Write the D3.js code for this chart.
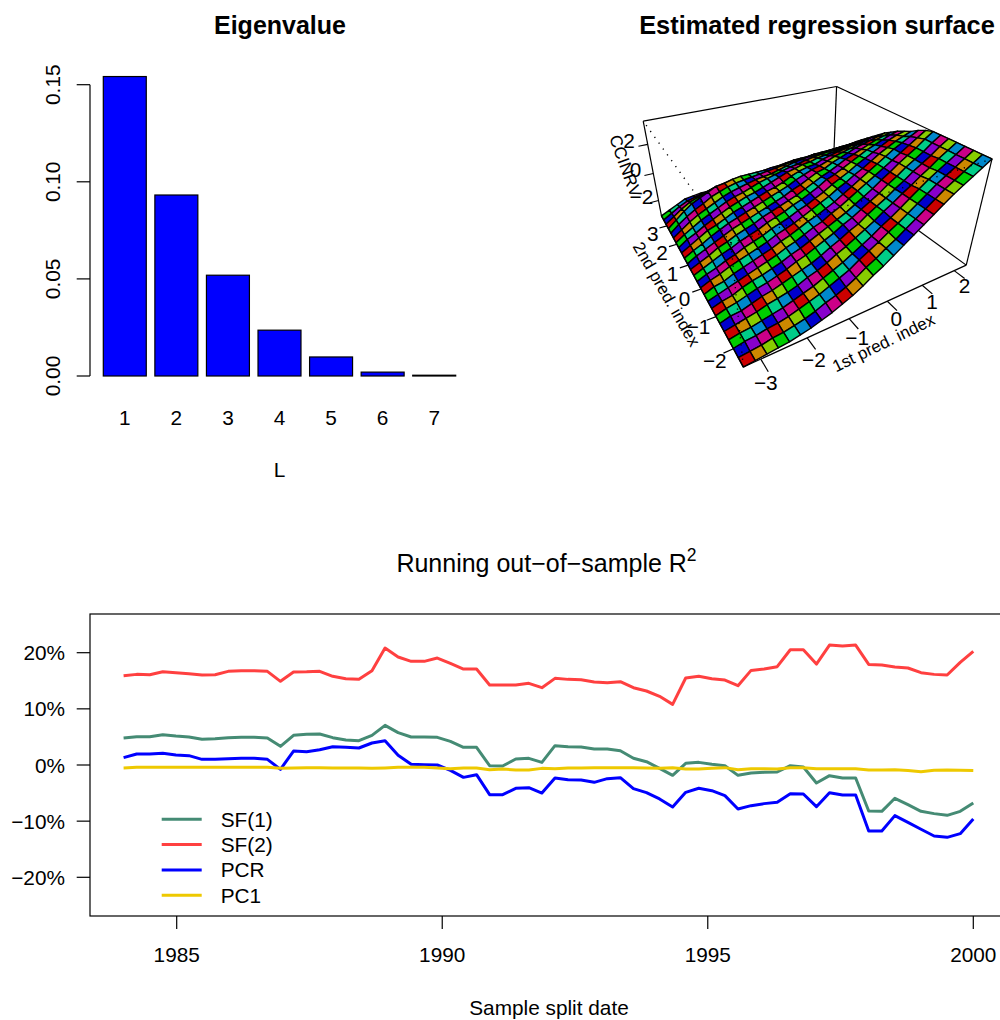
<!DOCTYPE html>
<html>
<head>
<meta charset="utf-8">
<script src="https://cdn.jsdelivr.net/npm/d3@7"></script>
<style>
body { margin: 0; background: #fff; }
svg { display: block; }
text { font-family: "Liberation Sans", Arial, sans-serif; fill: #000; }
</style>
</head>
<body>
<div id="chart"></div>
<script>
// eigenvalue bars
const eigenLabels = ["1", "2", "3", "4", "5", "6", "7"]
const eigenValues = [0.1542, 0.0932, 0.0519, 0.0236, 0.0098, 0.002, 0.0004]
const eigenTicks = [0, 0.05, 0.10, 0.15]

// running R2, percent
const firstDate = 1984
const lastDate = 2000
const dateTicks = [1985, 1990, 1995, 2000]
const r2Ticks = [-20, -10, 0, 10, 20]
const seriesNames = ["SF(1)", "SF(2)", "PCR", "PC1"]
const seriesColors = ["#458B74", "#FF4040", "#0000FF", "#EEC900"]
const sf1 = [4.81, 5.04, 5.04, 5.4, 5.16, 4.99, 4.57, 4.69, 4.87, 4.93, 4.93, 4.81, 3.32, 5.28, 5.46, 5.52, 4.87, 4.45, 4.33, 5.28, 7.06, 5.76, 4.99, 4.99, 4.93, 4.21, 3.15, 3.15, -0.12, -0.18, 1.07, 1.19, 0.47, 3.44, 3.26, 3.2, 2.85, 2.85, 2.55, 1.19, 0.59, -0.59, -1.84, 0.3, 0.47, 0.12, -0.12, -1.84, -1.42, -1.31, -1.25, -0.12, -0.36, -3.2, -1.9, -2.31, -2.31, -8.19, -8.25, -5.93, -7.06, -8.25, -8.66, -8.96, -8.25, -6.77]
const sf2 = [15.9, 16.14, 16.08, 16.6, 16.44, 16.26, 16.02, 16.08, 16.68, 16.8, 16.8, 16.68, 14.9, 16.56, 16.59, 16.68, 15.79, 15.37, 15.25, 16.8, 20.83, 19.23, 18.46, 18.46, 19.05, 18.1, 17.09, 17.09, 14.24, 14.24, 14.24, 14.54, 13.77, 15.43, 15.25, 15.19, 14.78, 14.66, 14.84, 13.77, 13.18, 12.23, 10.8, 15.49, 15.79, 15.37, 15.13, 14.12, 16.85, 17.09, 17.51, 20.53, 20.53, 17.98, 21.36, 21.19, 21.36, 17.92, 17.8, 17.45, 17.27, 16.44, 16.14, 16.02, 18.28, 20.24]
const pcr = [1.31, 1.96, 1.96, 2.08, 1.78, 1.66, 1.01, 1.01, 1.13, 1.19, 1.19, 1.01, -0.77, 2.49, 2.37, 2.73, 3.26, 3.15, 3.03, 3.92, 4.33, 1.72, 0.12, 0.06, 0, -0.95, -2.2, -1.72, -5.28, -5.28, -4.15, -4.04, -4.99, -2.31, -2.61, -2.67, -3.09, -2.43, -2.26, -4.21, -4.93, -6.05, -7.48, -4.87, -4.15, -4.57, -5.46, -7.83, -7.24, -6.88, -6.65, -5.1, -5.16, -7.42, -4.93, -5.34, -5.34, -11.75, -11.75, -9.02, -10.21, -11.45, -12.64, -12.88, -12.23, -9.61]
const pc1 = [-0.53, -0.42, -0.42, -0.42, -0.42, -0.42, -0.42, -0.42, -0.42, -0.42, -0.42, -0.42, -0.6, -0.53, -0.47, -0.47, -0.53, -0.53, -0.53, -0.6, -0.53, -0.42, -0.42, -0.42, -0.53, -0.65, -0.53, -0.53, -0.83, -0.71, -0.89, -0.89, -0.6, -0.65, -0.53, -0.53, -0.47, -0.47, -0.47, -0.47, -0.53, -0.6, -0.47, -0.71, -0.71, -0.6, -0.47, -0.83, -0.65, -0.65, -0.71, -0.47, -0.47, -0.65, -0.65, -0.65, -0.65, -0.89, -0.89, -0.83, -1.0, -1.19, -0.95, -0.89, -0.95, -1.0]
const seriesValues = [sf1, sf2, pcr, pc1]

// surface, rows run along the 2nd index, heights are percent of the z range
const xDomain = [-3.35, 2.4]
const yDomain = [-2.5, 3.6]
const zDomain = [-3.2, 3.5]
const xTicks = [-3, -2, -1, 0, 1, 2]
const yTicks = [-2, -1, 0, 1, 2, 3]
const zTicks = [-2, 0, 2]
const cellColors = ["#CC0000", "#CC8800", "#88CC00", "#00CC00", "#00CC88", "#0088CC", "#0000CC", "#8800CC", "#CC0088"]
const surfacePct = [
    [0, 1, 2, 3, 4, 6, 8, 11, 14, 18, 22, 27, 33, 38, 44, 50, 56, 62, 68, 74, 80, 85, 90, 95, 100],
    [0, 1, 2, 4, 5, 7, 9, 12, 16, 19, 23, 28, 34, 39, 45, 50, 56, 62, 68, 74, 80, 85, 90, 95, 100],
    [0, 2, 3, 5, 6, 8, 11, 14, 17, 21, 25, 29, 35, 40, 45, 51, 56, 62, 68, 74, 80, 85, 90, 95, 100],
    [0, 2, 3, 5, 7, 9, 12, 15, 18, 22, 26, 30, 35, 40, 45, 51, 56, 62, 68, 74, 80, 85, 90, 95, 100],
    [0, 2, 4, 6, 9, 11, 13, 16, 20, 23, 27, 32, 36, 41, 46, 51, 57, 62, 68, 73, 79, 84, 90, 95, 100],
    [0, 3, 4, 7, 10, 12, 15, 18, 21, 24, 28, 33, 37, 42, 46, 52, 57, 62, 68, 73, 79, 84, 89, 95, 100],
    [0, 3, 5, 8, 11, 13, 16, 19, 23, 26, 30, 34, 38, 43, 47, 52, 57, 62, 68, 73, 79, 84, 89, 95, 100],
    [0, 3, 5, 9, 12, 14, 17, 20, 24, 27, 31, 35, 39, 43, 47, 52, 57, 62, 68, 73, 79, 84, 89, 95, 100],
    [0, 3, 6, 9, 12, 15, 18, 21, 25, 28, 32, 36, 39, 44, 48, 53, 58, 63, 68, 73, 78, 83, 88, 93, 98],
    [0, 4, 6, 10, 13, 16, 19, 22, 26, 29, 33, 37, 40, 44, 48, 53, 58, 63, 68, 73, 78, 83, 87, 91, 95],
    [0, 4, 7, 11, 14, 17, 20, 23, 27, 30, 33, 37, 41, 45, 49, 54, 58, 63, 67, 72, 77, 81, 85, 88, 91],
    [0, 4, 7, 11, 14, 18, 21, 24, 28, 31, 34, 38, 41, 45, 49, 54, 58, 62, 67, 71, 75, 79, 83, 86, 88],
    [0, 4, 8, 12, 15, 19, 22, 25, 29, 32, 35, 39, 42, 46, 50, 55, 58, 62, 66, 70, 74, 77, 80, 83, 85],
    [0, 4, 8, 13, 16, 20, 23, 26, 30, 33, 36, 39, 42, 46, 50, 54, 57, 61, 65, 68, 71, 74, 77, 79, 81],
    [0, 5, 9, 13, 17, 21, 24, 27, 30, 33, 36, 39, 43, 46, 50, 54, 56, 60, 63, 66, 69, 71, 73, 75, 77],
    [0, 5, 9, 14, 18, 22, 25, 28, 31, 34, 37, 40, 43, 47, 50, 53, 55, 58, 61, 63, 65, 67, 69, 71, 72],
    [0, 5, 10, 15, 18, 22, 26, 29, 32, 35, 38, 40, 43, 47, 50, 52, 53, 56, 58, 60, 61, 63, 64, 66, 67],
    [0, 6, 10, 15, 19, 23, 27, 30, 33, 35, 38, 41, 44, 47, 49, 51, 52, 54, 55, 56, 57, 58, 59, 61, 62],
    [0, 6, 11, 16, 20, 24, 28, 31, 33, 36, 39, 41, 43, 45, 47, 48, 50, 51, 52, 53, 53, 54, 55, 56, 57],
    [0, 6, 12, 17, 21, 25, 29, 32, 34, 36, 38, 39, 40, 42, 44, 46, 47, 48, 48, 49, 49, 50, 50, 51, 52],
    [0, 7, 13, 18, 22, 27, 30, 33, 35, 36, 37, 38, 39, 40, 41, 42, 43, 43, 44, 44, 44, 45, 45, 45, 46],
    [0, 7, 14, 20, 24, 28, 32, 33, 35, 36, 36, 36, 36, 37, 37, 38, 39, 39, 39, 40, 40, 40, 40, 41, 41],
    [0, 6, 12, 17, 20, 23, 26, 27, 28, 29, 30, 30, 30, 30, 31, 31, 32, 33, 33, 34, 34, 34, 34, 35, 35],
    [0, 5, 10, 14, 16, 18, 20, 20, 21, 21, 21, 22, 23, 24, 24, 25, 25, 25, 26, 26, 27, 27, 28, 28, 29],
    [0, 4, 8, 12, 13, 14, 14, 14, 13, 13, 13, 14, 14, 15, 16, 17, 17, 18, 18, 18, 18, 19, 19, 21, 23]
]

const svg = d3.select("#chart")
    .append("svg")
    .attr("width", 1000)
    .attr("height", 1020)
    .attr("viewBox", "0 0 1000 1020")

const tickSize = 20.8
const titleSize = 25

function label(x, y, str, opts = {}) {
    const t = svg.append("text")
        .attr("x", x)
        .attr("y", y)
        .attr("font-size", opts.size || tickSize)
        .attr("text-anchor", opts.anchor || "middle")
        .text(str)
    if (opts.bold) t.attr("font-weight", "bold")
    if (opts.rotate) t.attr("transform", `rotate(${opts.rotate},${x},${y})`)
    return t
}

function drawBars() {
    const x = d3.scaleBand(eigenLabels, [103.3, 455.7]).paddingInner(0.1667)
    const y = d3.scaleLinear([0, 0.15], [376, 84.7])
    svg.append("g")
        .selectAll("rect")
        .data(eigenValues)
        .join("rect")
        .attr("x", (d, i) => x(eigenLabels[i]))
        .attr("y", d => y(d))
        .attr("width", x.bandwidth())
        .attr("height", d => y(0) - y(d))
        .attr("fill", "#0000FF")
        .attr("stroke", "#000")
        .attr("stroke-width", 1.2)

    svg.append("path")
        .attr("fill", "none")
        .attr("stroke", "#000")
        .attr("stroke-width", 1.2)
        .attr("d", `M90,${y(0)}V${y(0.15)}`)
    eigenTicks.forEach(t => {
        svg.append("line").attr("x1", 76.7).attr("x2", 90).attr("y1", y(t)).attr("y2", y(t))
            .attr("stroke", "#000").attr("stroke-width", 1.2)
        label(60, y(t), d3.format(".2f")(t), { rotate: -90 })
    })
    eigenLabels.forEach(l => label(x(l) + x.bandwidth() / 2, 425, l))
    label(279.5, 477, "L")
    label(280, 34, "Eigenvalue", { size: titleSize, bold: true })
}

function drawLines() {
    const x = d3.scaleLinear([1985, 2000], [176.7, 973.3])
    const y = d3.scaleLinear([-20, 20], [877.3, 652.7])
    const dateAt = d3.scaleLinear([0, sf1.length - 1], [firstDate, lastDate])
    const line = d3.line((d, i) => x(dateAt(i)), d => y(d))

    svg.append("g")
        .selectAll("path")
        .data(seriesValues)
        .join("path")
        .attr("fill", "none")
        .attr("stroke", (d, i) => seriesColors[i])
        .attr("stroke-width", 3)
        .attr("stroke-linejoin", "round")
        .attr("d", line)

    svg.append("rect")
        .attr("x", 90).attr("y", 614).attr("width", 1000).attr("height", 302)
        .attr("fill", "none").attr("stroke", "#000").attr("stroke-width", 1.2)

    r2Ticks.forEach(t => {
        svg.append("line").attr("x1", 76.7).attr("x2", 90).attr("y1", y(t)).attr("y2", y(t))
            .attr("stroke", "#000").attr("stroke-width", 1.2)
        label(65, y(t) + 7.5, `${t < 0 ? "\u2212" : ""}${Math.abs(t)}%`, { anchor: "end" })
    })
    dateTicks.forEach(t => {
        svg.append("line").attr("x1", x(t)).attr("x2", x(t)).attr("y1", 916).attr("y2", 929)
            .attr("stroke", "#000").attr("stroke-width", 1.2)
        label(x(t), 962, String(t))
    })
    label(549, 1015, "Sample split date")
    const title = label(546.5, 572, "Running out\u2212of\u2212sample R", { size: titleSize })
    title.append("tspan").attr("font-size", 17.5).attr("dy", -11).text("2")

    const legendY = d3.scaleBand(seriesNames, [806.5, 908])
    seriesNames.forEach((name, i) => {
        const ly = legendY(name) + legendY.bandwidth() / 2
        svg.append("line").attr("x1", 161.7).attr("x2", 201.7).attr("y1", ly).attr("y2", ly)
            .attr("stroke", seriesColors[i]).attr("stroke-width", 3)
        label(220.7, ly + 7.5, name, { anchor: "start" })
    })
}

// camera: azimuth, elevation, distance, z stretch, screen scale and centre
const viewAzimuth = 0.521
const viewElevation = 0.53
const viewDistance = 3.724
const zStretch = 0.489
const screenScale = 440.457
const screenCenter = [801.623, 191.715]

function view(x, y, z) {
    const ca = Math.cos(viewAzimuth), sa = Math.sin(viewAzimuth)
    const cp = Math.cos(viewElevation), sp = Math.sin(viewElevation)
    const h = x * sa + y * ca
    const X = x * ca - y * sa
    const Y = z * zStretch * cp + h * sp
    const D = -h * cp + z * zStretch * sp
    const w = viewDistance - D
    return [screenCenter[0] + screenScale * X / w, screenCenter[1] - screenScale * Y / w, w]
}

function drawSurface() {
    const sx = d3.scaleLinear(xDomain, [-1, 1])
    const sy = d3.scaleLinear(yDomain, [-1, 1])
    const sz = d3.scaleLinear(zDomain, [-1, 1])
    const pctToZ = d3.scaleLinear([0, 100], zDomain)
    const gridX = d3.scaleLinear([0, surfacePct[0].length - 1], xDomain)
    const gridY = d3.scaleLinear([0, surfacePct.length - 1], yDomain)
    const pt = (x, y, z) => view(sx(x), sy(y), sz(z))
    const [x0, x1] = xDomain, [y0, y1] = yDomain, [z0, z1] = zDomain

    const edge = (a, b, dotted) => {
        const l = svg.append("path")
            .attr("fill", "none")
            .attr("stroke", "#000")
            .attr("stroke-width", 1.2)
            .attr("d", d3.line()([pt(...a).slice(0, 2), pt(...b).slice(0, 2)]))
        if (dotted) l.attr("stroke-dasharray", "1.2 6").attr("stroke-width", 1.4)
    }
    // back of the box
    edge([x0, y1, z0], [x1, y1, z0])
    edge([x1, y0, z0], [x1, y1, z0])
    edge([x1, y1, z0], [x1, y1, z1])
    edge([x0, y1, z0], [x0, y1, z1])
    edge([x1, y0, z0], [x1, y0, z1])
    edge([x0, y1, z1], [x1, y1, z1])
    edge([x1, y0, z1], [x1, y1, z1])

    const cells = []
    for (let j = 0; j < surfacePct.length - 1; j++) {
        for (let i = 0; i < surfacePct[j].length - 1; i++) {
            const corners = [[i, j], [i + 1, j], [i + 1, j + 1], [i, j + 1]]
                .map(([a, b]) => pt(gridX(a), gridY(b), pctToZ(surfacePct[b][a])))
            cells.push({
                path: corners.map(c => c.slice(0, 2)),
                depth: d3.mean(corners, c => c[2]),
                color: cellColors[(i + (surfacePct[j].length - 1) * j) % cellColors.length]
            })
        }
    }
    cells.sort((a, b) => d3.descending(a.depth, b.depth))
    svg.append("g")
        .selectAll("path")
        .data(cells)
        .join("path")
        .attr("d", d => d3.line()(d.path) + "Z")
        .attr("fill", d => d.color)
        .attr("stroke", "#000")
        .attr("stroke-width", 1.4)
        .attr("stroke-linejoin", "round")

    // front of the box
    edge([x0, y0, z0], [x1, y0, z0])
    edge([x0, y0, z0], [x0, y1, z0])
    edge([x0, y0, z0], [x0, y0, z1], true)
    edge([x0, y0, z1], [x1, y0, z1], true)
    edge([x0, y0, z1], [x0, y1, z1], true)

    const spanX = x1 - x0, spanY = y1 - y0
    const tickText = t => `${t < 0 ? "\u2212" : ""}${Math.abs(t)}`
    xTicks.forEach(t => {
        edge([t, y0, z0], [t, y0 - 0.055 * spanY, z0])
        const p = pt(t, y0 - 0.1 * spanY, z0)
        label(p[0] - 9, p[1] + 7.5, tickText(t))
    })
    yTicks.forEach(t => {
        edge([x0, t, z0], [x0 - 0.035 * spanX, t, z0])
        const p = pt(x0 - 0.065 * spanX, t, z0)
        label(p[0], p[1] + 11, tickText(t))
    })
    zTicks.forEach(t => {
        edge([x0, y1, t], [x0 - 0.04 * spanX, y1, t])
        const p = pt(x0 - 0.08 * spanX, y1, t)
        label(p[0], p[1] - 0.5, tickText(t))
    })
    label(886, 348, "1st pred. index", { size: 17, rotate: -26 })
    label(661.5, 297, "2nd pred. index", { size: 17, rotate: 60 })
    label(620, 168, "CCINRV", { size: 17, rotate: 70 })
    label(817, 34, "Estimated regression surface", { size: 25.4, bold: true })
}

drawBars()
drawSurface()
drawLines()
</script>
</body>
</html>
